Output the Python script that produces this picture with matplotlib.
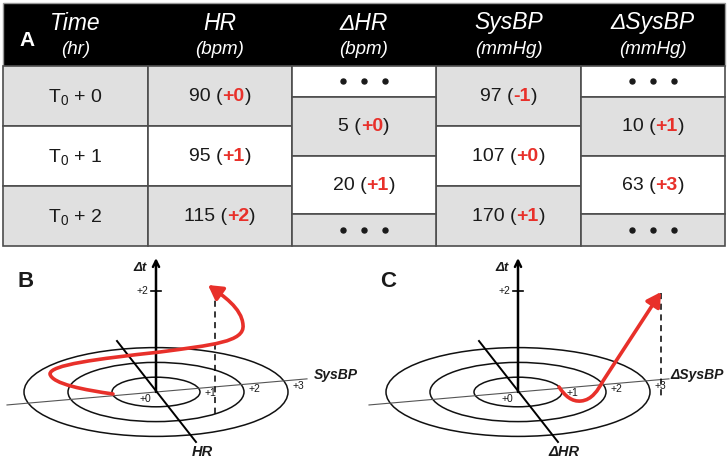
import matplotlib
matplotlib.use("Agg")
import matplotlib.pyplot as plt
from matplotlib.patches import Rectangle, Ellipse, FancyArrowPatch
from matplotlib.path import Path
from matplotlib.offsetbox import TextArea, HPacker, AnnotationBbox

plt.rcParams['font.family'] = ['Liberation Sans', 'DejaVu Sans']
plt.rcParams['mathtext.fontset'] = 'custom'
plt.rcParams['mathtext.rm'] = 'Liberation Sans'
plt.rcParams['mathtext.it'] = 'Liberation Sans:italic'
plt.rcParams['mathtext.bf'] = 'Liberation Sans:bold'

# ---- table values ----
headers = ["Time", "HR", "\u0394HR", "SysBP", "\u0394SysBP"]
units = ["(hr)", "(bpm)", "(bpm)", "(mmHg)", "(mmHg)"]
times = ["T$_0$ + 0", "T$_0$ + 1", "T$_0$ + 2"]
hr = [90, 95, 115]
hr_rank = ["+0", "+1", "+2"]
dhr = [5, 20]
dhr_rank = ["+0", "+1"]
sbp = [97, 107, 170]
sbp_rank = ["-1", "+0", "+1"]
dsbp = [10, 63]
dsbp_rank = ["+1", "+3"]

# ---- diagram values ----
ring_labels = ["+0", "+1", "+2", "+3"]
# trajectory (cubic bezier, relative to the origin of each panel)
traj_b = [(-43, 2), (-71, -2), (-104, -8), (-106, -18),
          (-106, -27), (-60, -33), (4, -40),
          (56, -47), (89, -50), (87, -67),
          (86, -84), (66, -97), (52, -107)]
traj_c = [(41, -5), (47, 4), (54, 10), (63, 9),
          (74, 8), (80, -2), (85, -11),
          (143, -100)]

RED = "#e8302a"
GRAY = "#e0e0e0"
INK = "#1a1a1a"

fig = plt.figure(figsize=(7.28, 4.61), dpi=100)
ax = fig.add_axes([0, 0, 1, 1])
ax.set_xlim(0, 728)
ax.set_ylim(461, 0)
ax.axis('off')


def rich(x, y, parts, size=14):
    boxes = [TextArea(s, textprops=dict(color=c, fontsize=size, fontweight=w))
             for s, c, w in parts]
    pack = HPacker(children=boxes, align="baseline", pad=0, sep=0)
    ab = AnnotationBbox(pack, (x, y), frameon=False, box_alignment=(0.5, 0.5), pad=0)
    ax.add_artist(ab)


def value(x, y, v, r):
    rich(x, y, [(f"{v} (", INK, "normal"), (r, RED, "bold"), (")", INK, "normal")])


def dots(x, y):
    for dx in (-21, 0, 21):
        ax.plot(x + dx, y, 'o', ms=3.6, color=INK)


def cell(x0, x1, y0, y1, fc):
    ax.add_patch(Rectangle((x0, y0), x1 - x0, y1 - y0, fc=fc, ec="#4d4d4d", lw=1.2))


# ---- table (A) ----
cols = [3, 148, 292, 436, 581, 725]
rows = [66, 126, 186, 246]
subrows = [66, 97, 156, 214, 246]
shade = [GRAY, "white", GRAY]
subshade = ["white", GRAY, "white", GRAY]

ax.add_patch(Rectangle((3, 3), 722, 63, fc="black", ec="#999999", lw=1))
for i in range(5):
    xc = (cols[i] + cols[i + 1]) / 2
    ax.text(xc, 23, headers[i], color="white", fontsize=16.5, style="italic",
            ha="center", va="center")
    ax.text(xc, 50, units[i], color="white", fontsize=13.5, style="italic",
            ha="center", va="center")
ax.text(27, 40, "A", color="white", fontsize=15, fontweight="bold",
        ha="center", va="center")

for j in range(3):
    y0, y1 = rows[j], rows[j + 1]
    yc = (y0 + y1) / 2
    cell(cols[0], cols[1], y0, y1, shade[j])
    cell(cols[1], cols[2], y0, y1, shade[j])
    cell(cols[3], cols[4], y0, y1, shade[j])
    ax.text((cols[0] + cols[1]) / 2, yc + 1, times[j], color=INK, fontsize=14,
            ha="center", va="center")
    value((cols[1] + cols[2]) / 2, yc, hr[j], hr_rank[j])
    value((cols[3] + cols[4]) / 2, yc, sbp[j], sbp_rank[j])

for j in range(4):
    y0, y1 = subrows[j], subrows[j + 1]
    yc = (y0 + y1) / 2
    cell(cols[2], cols[3], y0, y1, subshade[j])
    cell(cols[4], cols[5], y0, y1, subshade[j])
    if j in (0, 3):
        dots((cols[2] + cols[3]) / 2, yc)
        dots((cols[4] + cols[5]) / 2, yc)
    else:
        value((cols[2] + cols[3]) / 2, yc, dhr[j - 1], dhr_rank[j - 1])
        value((cols[4] + cols[5]) / 2, yc, dsbp[j - 1], dsbp_rank[j - 1])


# ---- panels B and C ----
def panel(ox, oy, letter, xlab, ylab, traj, dash_x, dash_y0, dash_y1, lab_x):
    ax.text(ox - 130, oy - 111, letter, fontsize=16, fontweight="bold",
            ha="center", va="center", color=INK)
    for k in (1, 2, 3):
        ax.add_patch(Ellipse((ox, oy), 2 * 44 * k, 2 * 14.8 * k, fill=False,
                             ec="#111111", lw=1.1))
    # flat axis through the rings
    ax.plot([ox - 149, ox + 151], [oy + 0.087 * 149, oy - 0.087 * 151],
            color="#555555", lw=0.8)
    ax.text(ox + lab_x, oy - 17, xlab, fontsize=10, fontweight="bold",
            style="italic", ha="left", va="center", color=INK)
    for k, lab in enumerate(ring_labels):
        rx = -11 if k == 0 else 44 * k + 10
        ax.text(ox + rx, oy - 0.087 * rx + 6, lab, fontsize=7.5,
                ha="center", va="center", color=INK)
    # depth axis
    ax.plot([ox - 39, ox + 40], [oy - 51, oy + 50], color="black", lw=1.4)
    ax.text(ox + 46, oy + 60, ylab, fontsize=10.5, fontweight="bold",
            style="italic", ha="center", va="center", color=INK)
    # time axis
    ax.annotate("", xy=(ox, oy - 134), xytext=(ox, oy),
                arrowprops=dict(arrowstyle="->", lw=1.8, color="black",
                                shrinkA=0, shrinkB=0, mutation_scale=11))
    ax.plot([ox - 5, ox + 5], [oy - 101, oy - 101], color="black", lw=1.2)
    ax.text(ox - 14, oy - 101, "+2", fontsize=7.5, ha="center", va="center",
            color=INK)
    ax.text(ox - 16, oy - 124, "\u0394t", fontsize=9.5, fontweight="bold",
            style="italic", ha="center", va="center", color=INK)
    # projection line
    ax.plot([dash_x, dash_x], [dash_y0, dash_y1], color="black", lw=1.1,
            ls=(0, (4, 3)))
    # trajectory
    verts = [(ox + dx, oy + dy) for dx, dy in traj]
    if len(verts) == 13:
        codes = [Path.MOVETO] + [Path.CURVE4] * 12
    else:
        codes = [Path.MOVETO] + [Path.CURVE4] * 6 + [Path.LINETO]
    arr = FancyArrowPatch(path=Path(verts, codes),
                          arrowstyle="-|>,head_length=0.7,head_width=0.4",
                          mutation_scale=12, lw=2.6, color=RED, zorder=5)
    ax.add_patch(arr)


panel(156, 392, "B", "SysBP", "HR", traj_b, 215, 290, 415, 158)
panel(518, 392, "C", "\u0394SysBP", "\u0394HR", traj_c, 661, 293, 398, 152)

fig.savefig("out.png", dpi=100)
